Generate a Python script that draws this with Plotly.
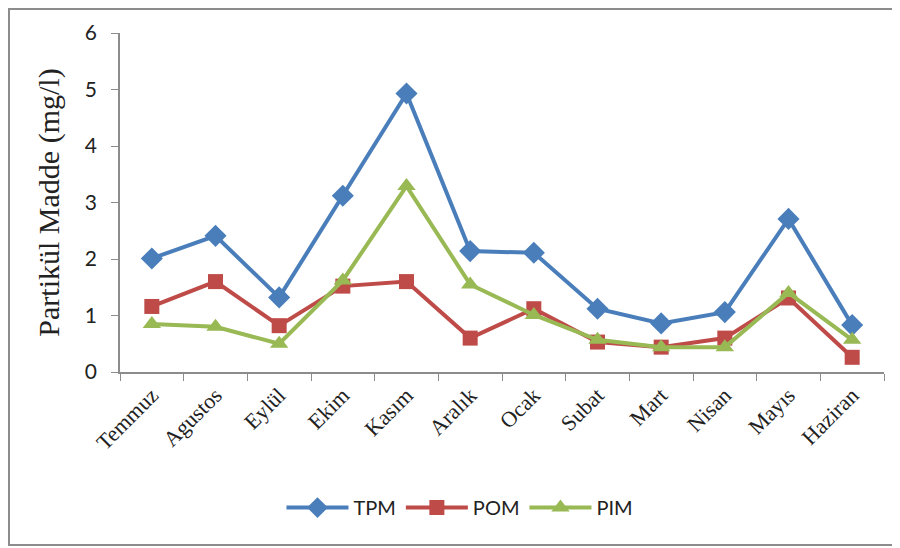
import plotly.graph_objects as go

months = ["Temmuz", "Agustos", "Eylül", "Ekim", "Kasım", "Aralık", "Ocak",
          "Subat", "Mart", "Nisan", "Mayıs", "Haziran"]
tpm = [2.01, 2.41, 1.32, 3.12, 4.93, 2.14, 2.11, 1.12, 0.86, 1.06, 2.71, 0.83]
pom = [1.16, 1.60, 0.82, 1.52, 1.60, 0.60, 1.12, 0.53, 0.44, 0.60, 1.31, 0.26]
pim = [0.85, 0.80, 0.50, 1.62, 3.29, 1.55, 1.01, 0.57, 0.44, 0.44, 1.40, 0.57]

series = [
    ("TPM", tpm, "#4a7ebb", "diamond", 17),
    ("POM", pom, "#be4b48", "square", 15),
    ("PIM", pim, "#98b954", "triangle-up", 16),
]

fig = go.Figure()
for name, vals, color, sym, size in series:
    fig.add_trace(go.Scatter(
        x=months, y=vals, name=name, mode="lines+markers",
        line=dict(color=color, width=4),
        marker=dict(symbol=sym, size=size, color=color),
        cliponaxis=False,
    ))

fig.update_layout(
    width=892, height=540,
    margin=dict(l=112, r=16, t=25, b=176),
    paper_bgcolor="white", plot_bgcolor="white",
    showlegend=True,
    legend=dict(orientation="h", x=0.445, xanchor="center", y=-0.40, yanchor="middle",
                font=dict(family="Lato, Open Sans, sans-serif", size=20, color="#222"),
                itemwidth=62, tracegroupgap=0),
    shapes=[dict(type="rect", xref="paper", yref="paper",
                 x0=-0.1453, x1=1.05, y0=-0.510, y1=1.0708,
                 line=dict(color="#8c8c8c", width=2), layer="below")],
)
fig.update_xaxes(
    automargin=False, range=[-0.5, len(months) - 0.5],
    showgrid=False, showline=True, linecolor="#8c8c8c", linewidth=1.5,
    ticks="outside", tickson="boundaries", ticklen=7, tickcolor="#8c8c8c",
    tickangle=-45,
    tickfont=dict(family="Liberation Serif, DejaVu Serif, serif", size=22, color="#222"),
)
fig.update_yaxes(
    automargin=False,
    range=[0, 6], dtick=1, showgrid=False, showline=True, linecolor="#8c8c8c",
    linewidth=1.5, ticks="outside", ticklen=7, tickcolor="#8c8c8c",
    zeroline=False, ticklabelstandoff=10,
    tickfont=dict(family="Lato, Open Sans, sans-serif", size=21, color="#222"),
    title=dict(text="Partikül Madde (mg/l)",
               font=dict(family="Liberation Serif, DejaVu Serif, serif", size=30, color="#222"),
               standoff=16),
)

fig.write_html("out.html")
